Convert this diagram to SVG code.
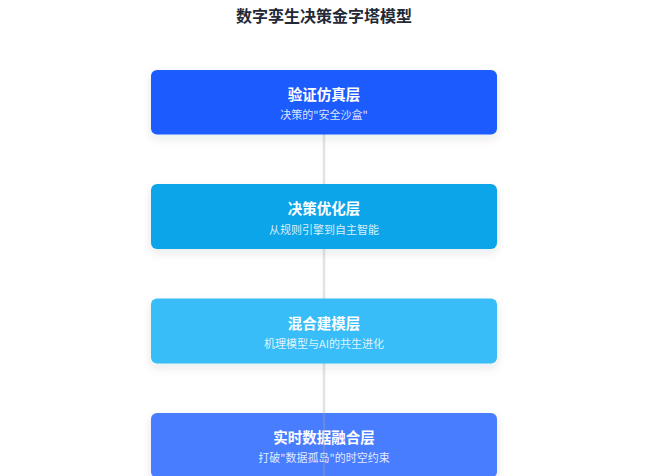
<svg xmlns="http://www.w3.org/2000/svg" width="660" height="476" viewBox="0 0 660 476">
<defs>
<filter id="sh" x="-10%" y="-30%" width="120%" height="170%">
<feDropShadow dx="0" dy="4" stdDeviation="5" flood-color="#1e293b" flood-opacity="0.10"/>
</filter>
<style>
.t{font-family:"Noto Sans CJK SC","Noto Sans",sans-serif;}
.main{font-size:16px;font-weight:700;fill:#1f2937;}
.h{font-size:14.5px;font-weight:700;fill:#ffffff;}
.s{font-size:11px;fill:#ffffff;fill-opacity:0.85;}
.conn{stroke:#a3a3a3;stroke-opacity:0.3;stroke-width:2.5;fill:none;}
</style>
</defs>
<rect width="660" height="476" fill="#ffffff"/>
<text class="t main" x="324" y="22" text-anchor="middle">数字孪生决策金字塔模型</text>
<g id="node4">
<rect x="151" y="413" width="346" height="65" rx="6" fill="#4a7dff" filter="url(#sh)"/>
<text class="t h" x="324" y="442.5" text-anchor="middle">实时数据融合层</text>
<text class="t s" x="324" y="462" text-anchor="middle">打破"数据孤岛"的时空约束</text>
</g>
<g id="connectors">
<line class="conn" x1="324" y1="134" x2="324" y2="476"/>
</g>
<g id="node1">
<rect x="151" y="70" width="346" height="64.5" rx="6" fill="#1a5cff" filter="url(#sh)"/>
<text class="t h" x="324" y="99.5" text-anchor="middle">验证仿真层</text>
<text class="t s" x="324" y="119" text-anchor="middle">决策的"安全沙盒"</text>
</g>
<g id="node2">
<rect x="151" y="184" width="346" height="65" rx="6" fill="#0ea5e9" filter="url(#sh)"/>
<text class="t h" x="324" y="214" text-anchor="middle">决策优化层</text>
<text class="t s" x="324" y="233.5" text-anchor="middle">从规则引擎到自主智能</text>
</g>
<g id="node3">
<rect x="151" y="298.5" width="346" height="65" rx="6" fill="#38bdf8" filter="url(#sh)"/>
<text class="t h" x="324" y="328.5" text-anchor="middle">混合建模层</text>
<text class="t s" x="324" y="348" text-anchor="middle">机理模型与AI的共生进化</text>
</g>
</svg>
